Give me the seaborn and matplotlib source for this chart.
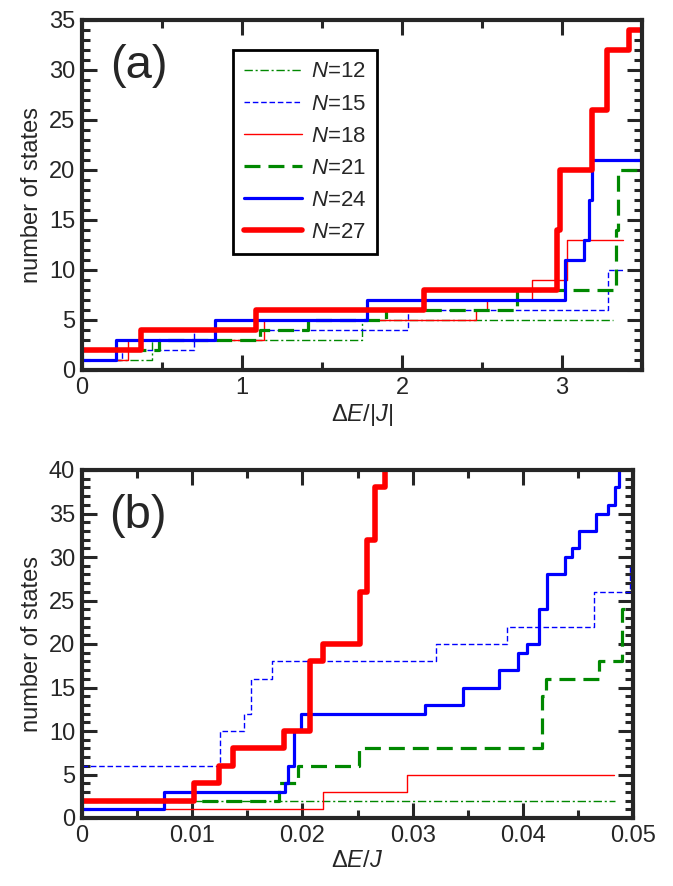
import matplotlib
matplotlib.use("Agg")
import matplotlib.pyplot as plt
from matplotlib.ticker import MultipleLocator, FuncFormatter
import seaborn as sbn
import pandas as pd

# panel (a): step positions (Delta E/|J|) and counts
a_x = {
    12: [0, 0.44, 1.75, 3.32],
    15: [0, 0.25, 0.70, 2.04, 3.29, 3.38],
    18: [0, 0.29, 1.14, 2.46, 2.53, 2.81, 3.03, 3.38],
    21: [0, 0.48, 1.11, 1.41, 1.90, 2.72, 3.34, 3.35, 3.5],
    24: [0, 0.21, 0.83, 1.78, 3.02, 3.14, 3.17, 3.19, 3.5],
    27: [0, 0.37, 1.09, 2.14, 2.97, 2.99, 3.19, 3.28, 3.42, 3.5],
}
a_y = {
    12: [1, 3, 5, 5],
    15: [1, 2, 4, 6, 10, 10],
    18: [1, 3, 5, 6, 7, 9, 13, 13],
    21: [2, 3, 4, 5, 6, 8, 14, 20, 20],
    24: [1, 3, 5, 7, 11, 13, 17, 21, 21],
    27: [2, 4, 6, 8, 14, 20, 26, 32, 34, 34],
}
# panel (b): step positions (Delta E/J) and counts
b_x = {
    12: [0, 0.0484],
    15: [0, 0.0125, 0.0147, 0.0153, 0.0172, 0.0321, 0.0386, 0.0465, 0.0497, 0.05],
    18: [0, 0.0219, 0.0295, 0.0483],
    21: [0, 0.0179, 0.0196, 0.0251, 0.0417, 0.0421, 0.0469, 0.0490, 0.05],
    24: [0, 0.0074, 0.0184, 0.0187, 0.0192, 0.0199, 0.0311, 0.0346, 0.0378, 0.0396,
         0.0404, 0.0415, 0.0422, 0.0438, 0.0445, 0.0451, 0.0466, 0.0477, 0.0484, 0.0487],
    27: [0, 0.0102, 0.0124, 0.0137, 0.0183, 0.0207, 0.0219, 0.0252, 0.0259, 0.0266, 0.0275],
}
b_y = {
    12: [2, 2],
    15: [6, 10, 12, 16, 18, 20, 22, 26, 29, 29],
    18: [1, 3, 5, 5],
    21: [2, 4, 6, 8, 14, 16, 18, 24, 24],
    24: [1, 3, 4, 6, 10, 12, 13, 15, 17, 19, 20, 24, 28, 30, 31, 33, 35, 36, 38, 42],
    27: [2, 4, 6, 8, 10, 18, 20, 26, 32, 38, 42],
}

styles = {
    12: dict(color="#008800", ls=(0, (6, 2, 1.5, 2)), lw=1.0),
    15: dict(color="#0000ff", ls=(0, (4, 2)), lw=1.0),
    18: dict(color="#ff0000", ls="-", lw=1.0),
    21: dict(color="#008800", ls=(0, (5, 2.5)), lw=2.3),
    24: dict(color="#0000ff", ls="-", lw=2.3),
    27: dict(color="#ff0000", ls="-", lw=4.0),
}

sbn.set_style("ticks")
plt.rcParams["font.family"] = ["Liberation Sans", "DejaVu Sans"]
plt.rcParams["mathtext.fontset"] = "custom"
plt.rcParams["mathtext.it"] = "Liberation Sans:italic"
plt.rcParams["mathtext.rm"] = "Liberation Sans"

fig = plt.figure(figsize=(6.73, 8.86), dpi=100)
W, H = 673, 886
ax_a = fig.add_axes([82 / W, 1 - 370 / H, 560 / W, 350 / H])
ax_b = fig.add_axes([82 / W, 1 - 818 / H, 551 / W, 348 / H])


def draw(ax, xs, ys):
    for n in [12, 15, 18, 21, 24, 27]:
        df = pd.DataFrame({"x": xs[n], "y": ys[n]})
        st = styles[n]
        sbn.lineplot(data=df, x="x", y="y", ax=ax, drawstyle="steps-post", color=st["color"],
                     linestyle=st["ls"], linewidth=st["lw"], label="$N$=%d" % n, sort=False,
                     estimator=None)


def style_axes(ax, xmaj, xmin, label):
    for s in ax.spines.values():
        s.set_linewidth(3)
    ax.xaxis.set_major_locator(MultipleLocator(xmaj))
    ax.xaxis.set_minor_locator(MultipleLocator(xmin))
    ax.yaxis.set_major_locator(MultipleLocator(5))
    ax.yaxis.set_minor_locator(MultipleLocator(1))
    ax.tick_params(which="both", direction="in", top=True, right=True, labelsize=17, width=2.2)
    ax.tick_params(which="major", length=11, pad=5)
    ax.tick_params(which="minor", length=6)
    ax.set_xlabel(label, fontsize=17, labelpad=2)
    ax.set_ylabel("number of states", fontsize=17, labelpad=4)


draw(ax_a, a_x, a_y)
ax_a.set_xlim(0, 3.5)
ax_a.set_ylim(0, 35)
style_axes(ax_a, 1, 0.5, r"$\Delta E$/|$J$|")
leg = ax_a.legend(loc="upper left", bbox_to_anchor=(0.25, 0.945), fontsize=16, handlelength=2.6,
                  handletextpad=0.4, fancybox=False, edgecolor="black", framealpha=1,
                  borderpad=0.5, labelspacing=0.5)
leg.get_frame().set_linewidth(2)
ax_a.text(0.05, 0.93, "(a)", transform=ax_a.transAxes, fontsize=34, va="top")

draw(ax_b, b_x, b_y)
ax_b.set_xlim(0, 0.05)
ax_b.set_ylim(0, 40)
style_axes(ax_b, 0.01, 0.005, r"$\Delta E$/$J$")
ax_b.xaxis.set_major_formatter(FuncFormatter(lambda v, p: "0" if abs(v) < 1e-9 else "%.2f" % v))
ax_b.get_legend().remove()
ax_b.text(0.05, 0.93, "(b)", transform=ax_b.transAxes, fontsize=34, va="top")

fig.savefig("out.png", dpi=100)
